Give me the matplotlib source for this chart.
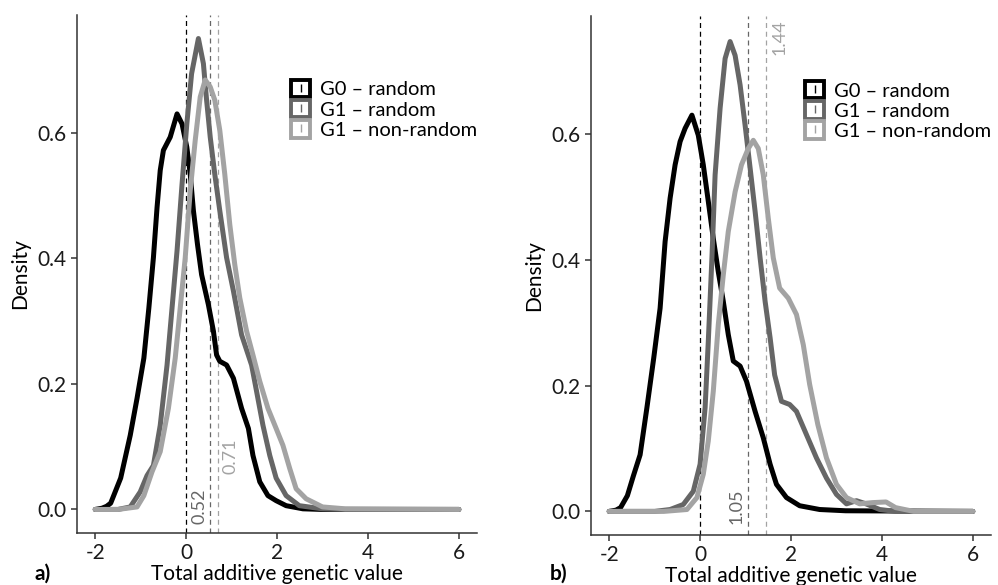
import matplotlib.pyplot as plt
from matplotlib.patches import Patch
from matplotlib.lines import Line2D

plt.rcParams['font.family'] = ['Lato', 'DejaVu Sans']

# ---- panel a) data (read off the figure) ----
g0_a_x = [-2.0, -1.85, -1.75, -1.66, -1.44, -1.23, -1.08, -0.93, -0.82, -0.72, -0.64, -0.57,
          -0.50, -0.35, -0.20, -0.09, 0.015, 0.09, 0.16, 0.25, 0.34, 0.49, 0.60, 0.67, 0.74,
          0.89, 1.04, 1.22, 1.37, 1.47, 1.62, 1.80, 1.98, 2.20, 2.57, 3.0, 6.0]
g0_a_y = [0.0, 0.002, 0.005, 0.01, 0.05, 0.118, 0.177, 0.241, 0.321, 0.401, 0.481, 0.54,
          0.572, 0.593, 0.630, 0.614, 0.577, 0.534, 0.476, 0.422, 0.374, 0.326, 0.284, 0.246,
          0.236, 0.230, 0.209, 0.161, 0.129, 0.086, 0.044, 0.022, 0.014, 0.006, 0.001, 0.0, 0.0]

g1r_a_x = [-2.0, -1.5, -1.23, -1.01, -0.86, -0.72, -0.57, -0.42, -0.31, -0.20, -0.09, 0.015,
           0.12, 0.27, 0.38, 0.45, 0.53, 0.63, 0.74, 0.89, 1.04, 1.22, 1.33, 1.44, 1.55, 1.69,
           1.84, 1.98, 2.20, 2.49, 3.0, 3.5, 6.0]
g1r_a_y = [0.0, 0.0, 0.004, 0.028, 0.054, 0.070, 0.134, 0.230, 0.321, 0.412, 0.518, 0.614,
           0.694, 0.750, 0.710, 0.652, 0.593, 0.534, 0.476, 0.401, 0.348, 0.278, 0.254, 0.230,
           0.188, 0.134, 0.086, 0.050, 0.022, 0.006, 0.001, 0.0, 0.0]

g1n_a_x = [-2.0, -1.5, -1.08, -0.93, -0.75, -0.57, -0.39, -0.24, -0.13, -0.02, 0.09, 0.20, 0.31,
           0.42, 0.53, 0.63, 0.74, 0.85, 0.96, 1.07, 1.18, 1.33, 1.47, 1.62, 1.80, 1.98, 2.13,
           2.28, 2.42, 2.64, 3.0, 3.5, 6.0]
g1n_a_y = [0.0, 0.0, 0.004, 0.022, 0.060, 0.092, 0.161, 0.241, 0.321, 0.401, 0.508, 0.588, 0.657,
           0.684, 0.673, 0.652, 0.604, 0.534, 0.454, 0.390, 0.337, 0.284, 0.246, 0.204, 0.161,
           0.129, 0.102, 0.065, 0.033, 0.017, 0.004, 0.001, 0.0]

means_a = [0.0, 0.52, 0.71]

# ---- panel b) data ----
g0_b_x = [-2.0, -1.85, -1.75, -1.6, -1.47, -1.32, -1.17, -1.02, -0.88, -0.77, -0.66, -0.55,
          -0.44, -0.33, -0.18, -0.04, 0.07, 0.18, 0.29, 0.40, 0.51, 0.62, 0.73, 0.88, 1.02, 1.21,
          1.39, 1.54, 1.68, 1.90, 2.19, 2.63, 3.2, 6.0]
g0_b_y = [0.0, 0.002, 0.006, 0.025, 0.056, 0.090, 0.165, 0.244, 0.323, 0.429, 0.498, 0.551,
          0.588, 0.609, 0.630, 0.598, 0.551, 0.493, 0.434, 0.381, 0.334, 0.281, 0.239, 0.231,
          0.207, 0.159, 0.117, 0.075, 0.043, 0.022, 0.009, 0.003, 0.001, 0.0]

g1r_b_x = [-2.0, -1.0, -0.66, -0.37, -0.15, 0.0, 0.11, 0.18, 0.26, 0.33, 0.44, 0.55, 0.66, 0.77,
           0.88, 0.99, 1.10, 1.21, 1.32, 1.43, 1.54, 1.64, 1.79, 1.97, 2.12, 2.34, 2.56, 2.78,
           3.0, 3.22, 3.44, 3.65, 3.95, 4.3, 6.0]
g1r_b_y = [0.0, 0.0, 0.003, 0.011, 0.032, 0.075, 0.165, 0.270, 0.403, 0.535, 0.641, 0.720,
           0.747, 0.725, 0.678, 0.614, 0.546, 0.477, 0.403, 0.334, 0.276, 0.217, 0.175, 0.170,
           0.159, 0.122, 0.085, 0.053, 0.027, 0.012, 0.017, 0.012, 0.003, 0.0, 0.0]

g1n_b_x = [-2.0, -0.8, -0.29, -0.07, 0.07, 0.18, 0.29, 0.40, 0.51, 0.62, 0.77, 0.91, 1.06, 1.17,
           1.28, 1.39, 1.50, 1.61, 1.75, 1.94, 2.12, 2.27, 2.41, 2.59, 2.78, 3.0, 3.22, 3.51,
           3.80, 4.09, 4.3, 4.7, 6.0]
g1n_b_y = [0.0, 0.0, 0.003, 0.022, 0.059, 0.112, 0.191, 0.297, 0.376, 0.445, 0.508, 0.551, 0.577,
           0.590, 0.577, 0.535, 0.466, 0.403, 0.355, 0.339, 0.313, 0.265, 0.202, 0.138, 0.085,
           0.043, 0.022, 0.012, 0.014, 0.015, 0.006, 0.0, 0.0]

means_b = [0.0, 1.05, 1.44]

series = ['G0 \u2013 random', 'G1 \u2013 random', 'G1 \u2013 non-random']
colors = ['#000000', '#666666', '#a3a3a3']
ticks_x = [-2, 0, 2, 4, 6]
ticks_y = [0.0, 0.2, 0.4, 0.6]


def panel(ax, xs, ys, means, label_pos):
    for m, c in zip(means, colors):
        ax.axvline(m, color=c, lw=0.9, ls=(0, (4, 3)), zorder=1)
    for x, y, c in zip(xs, ys, colors):
        ax.plot(x, y, color=c, lw=3.6, solid_capstyle='round', solid_joinstyle='round', zorder=2)
    # labels for the two G1 means
    for m, c, (dx, yy) in zip(means[1:], colors[1:], label_pos):
        ax.text(m + dx, yy, '%.2f' % m, rotation=90, color=c, fontsize=13,
                ha='center', va='center', zorder=3)

    ax.set_xlim(-2.4, 6.4)
    ax.set_ylim(-0.0375, 0.7875)
    ax.set_xticks(ticks_x)
    ax.set_xticklabels([str(t) for t in ticks_x])
    ax.set_yticks(ticks_y)
    ax.set_yticklabels(['%.1f' % t for t in ticks_y])
    for s in ['top', 'right']:
        ax.spines[s].set_visible(False)
    for s in ['left', 'bottom']:
        ax.spines[s].set_color('#333333')
        ax.spines[s].set_linewidth(1.1)
    ax.tick_params(labelsize=15, colors='#333333', labelcolor='#1a1a1a', length=4, width=1.1)
    ax.set_xlabel('Total additive genetic value', fontsize=15, labelpad=0.5)
    ax.set_ylabel('Density', fontsize=15, labelpad=5)

    handles = [(Patch(facecolor='white', edgecolor=c, lw=2.8),
                Line2D([], [], color=c, marker='|', ls='none', markersize=6, mew=1.0))
               for c in colors]
    ax.legend(handles, series, loc='upper left', bbox_to_anchor=(0.535, 0.875), frameon=False,
              fontsize=14.5, handlelength=0.95, handleheight=0.95, handletextpad=0.5,
              labelspacing=0.08, borderpad=0, borderaxespad=0)


fig = plt.figure(figsize=(9.98, 5.85), dpi=100)
ax_a = fig.add_axes([0.0772, 0.0889, 0.4008, 0.8855])
ax_b = fig.add_axes([0.5922, 0.0855, 0.4008, 0.887])

panel(ax_a, [g0_a_x, g1r_a_x, g1n_a_x], [g0_a_y, g1r_a_y, g1n_a_y], means_a,
      [(-0.23, 0.005), (0.27, 0.085)])
panel(ax_b, [g0_b_x, g1r_b_x, g1n_b_x], [g0_b_y, g1r_b_y, g1n_b_y], means_b,
      [(-0.24, 0.008), (0.30, 0.754)])

fig.text(0.035, 0.019, 'a)', fontsize=15, fontweight='bold', va='center')
fig.text(0.551, 0.019, 'b)', fontsize=15, fontweight='bold', va='center')

fig.savefig('out.png', dpi=100)
